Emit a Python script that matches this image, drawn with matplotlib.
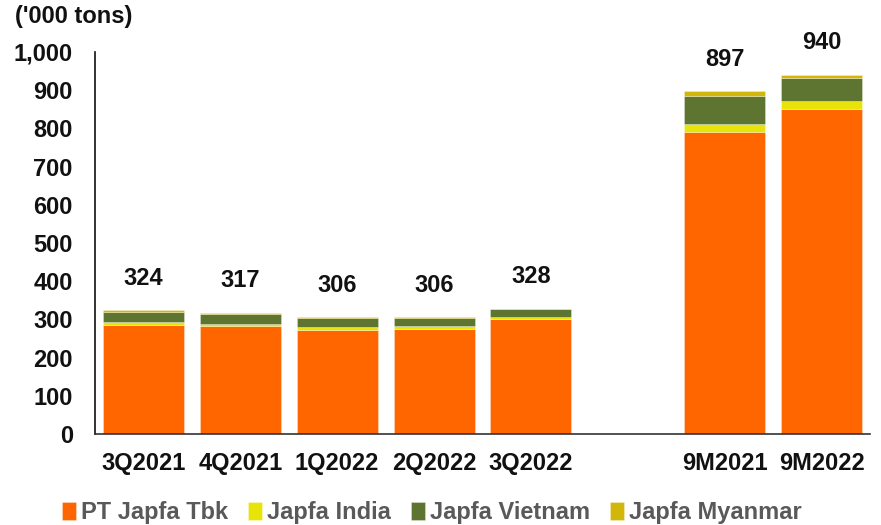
import matplotlib
matplotlib.use("Agg")
import matplotlib.pyplot as plt
import numpy as np

categories = ["3Q2021", "4Q2021", "1Q2022", "2Q2022", "3Q2022", "9M2021", "9M2022"]
positions = [0, 1, 2, 3, 4, 6, 7]
pt_japfa = [285, 282, 273, 275, 301, 791, 852]
india = [8, 7, 7, 7, 6, 20, 19]
vietnam = [27, 26, 23, 21, 19, 75, 62]
myanmar = [4, 2, 3, 3, 2, 11, 7]
totals = [324, 317, 306, 306, 328, 897, 940]
series_names = ["PT Japfa Tbk", "Japfa India", "Japfa Vietnam", "Japfa Myanmar"]
colors = ["#FF6600", "#E8E40A", "#5E7531", "#D2B60A"]
yticks = [0, 100, 200, 300, 400, 500, 600, 700, 800, 900, 1000]
ytick_labels = ["0", "100", "200", "300", "400", "500", "600", "700", "800", "900", "1,000"]

plt.rcParams['font.family'] = ['Liberation Sans', 'DejaVu Sans']
plt.rcParams['font.weight'] = 'bold'

FS = 17

fig = plt.figure(figsize=(8.81, 5.25), dpi=100)
ax = fig.add_axes([95/881, 1-434/525, (870-95)/881, (434-52)/525])

bottom = np.zeros(len(categories))
for vals, name, c in zip([pt_japfa, india, vietnam, myanmar], series_names, colors):
    ax.bar(positions, vals, bottom=bottom, width=0.835, color=c, label=name,
           edgecolor=(1, 1, 1, 0.35), linewidth=0.6)
    bottom = bottom + np.array(vals)

for p, b, t in zip(positions, bottom, totals):
    ax.annotate(f"{t}", xy=(p, b), xytext=(0, 23), textcoords="offset points",
                ha="center", va="center", fontsize=FS, fontweight="bold", color="#111111")

ax.set_xlim(-0.5, 7.5)
ax.set_ylim(0, 1000)
ax.set_yticks(yticks)
ax.set_yticklabels(ytick_labels)
ax.set_xticks(positions)
ax.set_xticklabels(categories)
ax.tick_params(axis="both", length=0, labelsize=FS, colors="#111111")
ax.tick_params(axis="y", pad=16)
ax.tick_params(axis="x", pad=13)
for lab in ax.get_xticklabels() + ax.get_yticklabels():
    lab.set_fontweight("bold")
ax.spines["top"].set_visible(False)
ax.spines["right"].set_visible(False)
ax.spines["left"].set_color("#111111")
ax.spines["bottom"].set_color("#333333")
ax.spines["left"].set_linewidth(1.2)
ax.spines["bottom"].set_linewidth(1.2)

fig.text(15/881, 1-17/525, "('000 tons)", fontsize=FS, fontweight="bold",
         ha="left", va="center", color="#111111")

leg = fig.legend(loc="center", bbox_to_anchor=(432/881, 1-513/525), ncol=4, frameon=False,
                 fontsize=FS, handlelength=0.6, handleheight=0.8, handletextpad=0.2,
                 columnspacing=0.85)
for t in leg.get_texts():
    t.set_color("#595959")
    t.set_fontweight("bold")

fig.savefig("out.png", dpi=100)
